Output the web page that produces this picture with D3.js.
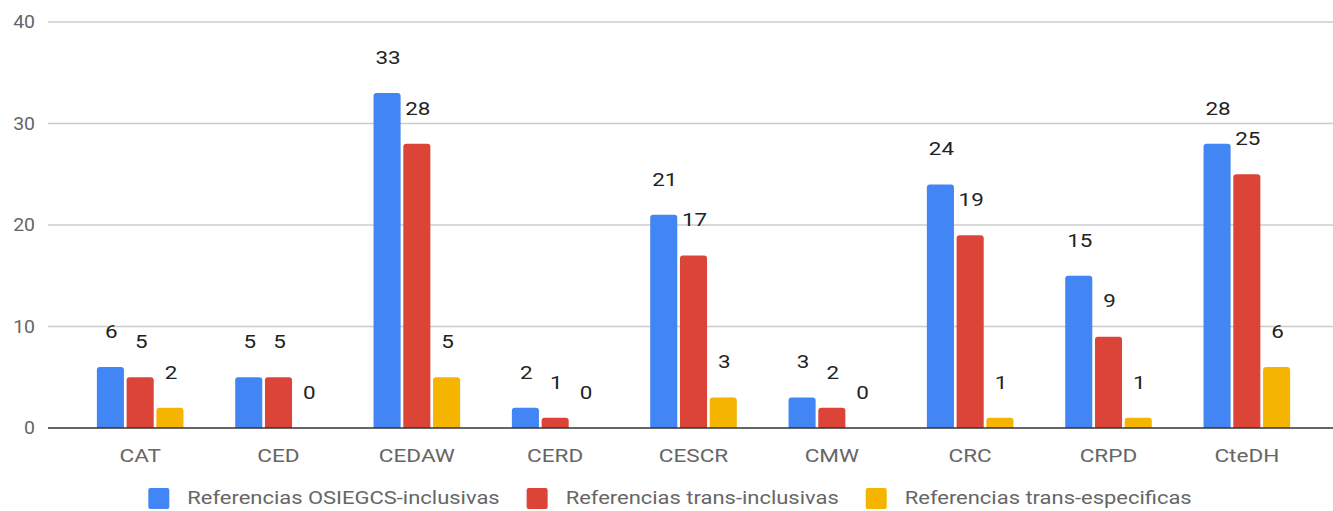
<!DOCTYPE html>
<html>
<head>
<meta charset="utf-8">
<script src="https://cdn.jsdelivr.net/npm/d3@7"></script>
<style>
  html, body { margin: 0; padding: 0; background: #fff; }
  svg { display: block; font-family: Roboto, "Noto Sans", sans-serif; }
</style>
</head>
<body>
<div id="chart"></div>
<script>
// Data
const categories = ["CAT", "CED", "CEDAW", "CERD", "CESCR", "CMW", "CRC", "CRPD", "CteDH"];
const seriesNames = ["Referencias OSIEGCS-inclusivas", "Referencias trans-inclusivas", "Referencias trans-especificas"];
const osiegcs = [6, 5, 33, 2, 21, 3, 24, 15, 28];
const transInclusivas = [5, 5, 28, 1, 17, 2, 19, 9, 25];
const transEspecificas = [2, 0, 5, 0, 3, 0, 1, 1, 6];
const yTicks = [0, 10, 20, 30, 40];

const seriesValues = [osiegcs, transInclusivas, transEspecificas];
const colors = ["#4285f4", "#db4437", "#f4b400"];

const width = 1333, height = 511;
// the source screenshot is stretched a little horizontally
const stretch = 1.22;

const svg = d3.select("#chart").append("svg")
    .attr("width", width)
    .attr("height", height);

// Scales
const x = d3.scaleBand()
    .domain(categories)
    .range([71, 1316])
    .paddingInner(0.374)
    .paddingOuter(0.187);

const xSub = d3.scaleBand()
    .domain(d3.range(seriesNames.length))
    .range([0, x.bandwidth()])
    .paddingInner(0.09);

const y = d3.scaleLinear()
    .domain([0, 40])
    .range([428, 22]);

// Gridlines and y labels
svg.append("g")
    .selectAll("line")
    .data(yTicks.filter(d => d !== 0))
    .join("line")
    .attr("x1", 48)
    .attr("x2", width)
    .attr("y1", d => y(d))
    .attr("y2", d => y(d))
    .attr("stroke", "#cccccc")
    .attr("stroke-width", 1.5);

svg.append("g")
    .selectAll("text")
    .data(yTicks)
    .join("text")
    .attr("transform", d => `translate(35,${y(d)}) scale(1.08,1)`)
    .attr("dy", "0.36em")
    .attr("text-anchor", "end")
    .attr("fill", "#666666")
    .style("font-size", "18px")
    .text(d => d);

// Bars with rounded top corners
function barPath(x0, w, yTop, yBase) {
    if (yBase - yTop <= 0) return "";
    const r = Math.min(3, (yBase - yTop));
    return `M${x0},${yBase}V${yTop + r}Q${x0},${yTop} ${x0 + r},${yTop}` +
           `H${x0 + w - r}Q${x0 + w},${yTop} ${x0 + w},${yTop + r}V${yBase}Z`;
}

const rows = [];
categories.forEach((c, i) => {
    seriesValues.forEach((vals, s) => {
        rows.push({ cat: c, s: s, v: vals[i] });
    });
});

svg.append("g")
    .selectAll("path")
    .data(rows)
    .join("path")
    .attr("d", d => barPath(x(d.cat) + xSub(d.s), xSub.bandwidth(), y(d.v), y(0)))
    .attr("fill", d => colors[d.s]);

// Baseline
svg.append("line")
    .attr("x1", 48)
    .attr("x2", width)
    .attr("y1", y(0))
    .attr("y2", y(0))
    .attr("stroke", "#333333")
    .attr("stroke-width", 1.5);

// Value labels
svg.append("g")
    .selectAll("text")
    .data(rows)
    .join("text")
    .attr("transform", d => `translate(${x(d.cat) + xSub(d.s) + xSub.bandwidth() / 2 + 1},${y(d.v) - 36}) scale(1.18,1)`)
    .attr("dy", "0.36em")
    .attr("text-anchor", "middle")
    .attr("fill", "#222222")
    .style("font-size", "19px")
    .text(d => d.v);

// X axis labels
svg.append("g")
    .selectAll("text")
    .data(categories)
    .join("text")
    .attr("transform", d => `translate(${x(d) + x.bandwidth() / 2},455) scale(${stretch},1)`)
    .attr("dy", "0.36em")
    .attr("text-anchor", "middle")
    .attr("fill", "#666666")
    .style("font-size", "18.5px")
    .text(d => d);

// Legend
const legend = svg.append("g");
const items = legend.selectAll("g")
    .data(seriesNames)
    .join("g");

items.append("rect")
    .attr("width", 21)
    .attr("height", 21)
    .attr("rx", 2)
    .attr("y", 488)
    .attr("fill", (d, i) => colors[i]);

items.append("text")
    .attr("transform", `translate(39,498) scale(${stretch},1)`)
    .attr("dy", "0.36em")
    .attr("fill", "#666666")
    .style("font-size", "18px")
    .text(d => d);

let offset = 0;
const positions = [];
items.each(function () {
    const w = d3.select(this).select("text").node().getComputedTextLength() * stretch;
    positions.push(offset);
    offset += 39 + w + 27;
});
const totalW = offset - 27;
const startX = 142 + (1198 - 142 - totalW) / 2;
items.attr("transform", (d, i) => `translate(${startX + positions[i]},0)`);
</script>
</body>
</html>
